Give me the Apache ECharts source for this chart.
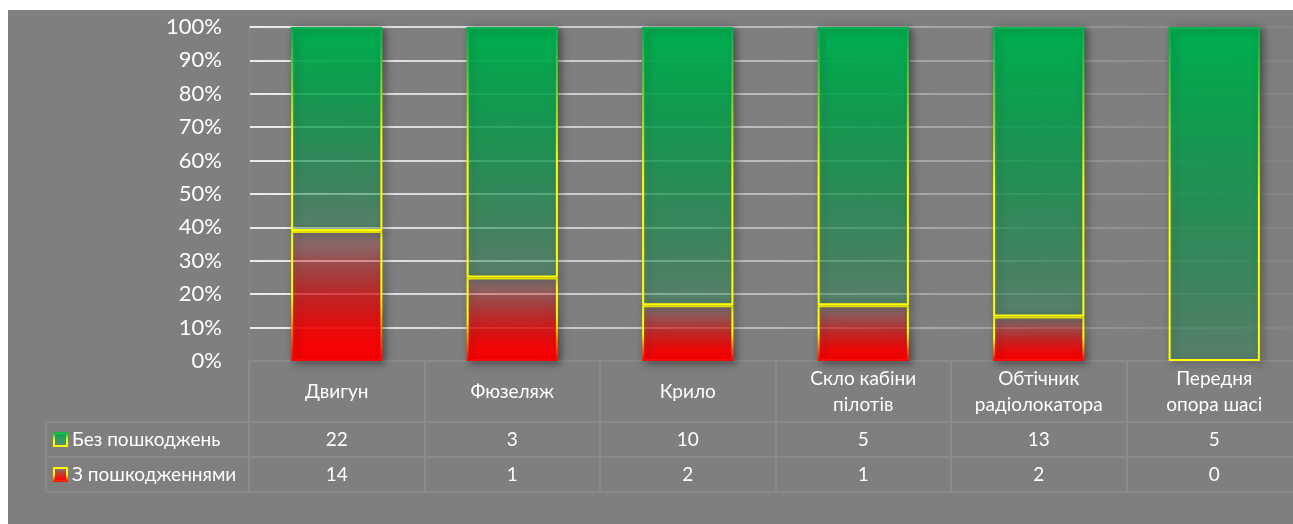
<!DOCTYPE html>
<html>
<head>
<meta charset="utf-8">
<script src="https://cdn.jsdelivr.net/npm/echarts@6/dist/echarts.min.js"></script>
<style>
  html, body { margin: 0; padding: 0; background: #ffffff; overflow: hidden; width: 1293px; height: 524px; }
  #bg { position: absolute; left: 8px; top: 10px; width: 1285px; height: 514px; background: #7f7f7f; }
  #chart { position: absolute; left: 0; top: 0; width: 1312px; height: 524px; }
</style>
</head>
<body>
<div id="bg"></div>
<div id="chart"></div>
<script>
// ---- data ----
var categories = ['Двигун', 'Фюзеляж', 'Крило', 'Скло кабіни\nпілотів', 'Обтічник\nрадіолокатора', 'Передня\nопора шасі'];
var seriesNames = ['Без пошкоджень', 'З пошкодженнями'];
var noDamage = [22, 3, 10, 5, 13, 5];
var damaged = [14, 1, 2, 1, 2, 0];
var yTicks = [0, 10, 20, 30, 40, 50, 60, 70, 80, 90, 100];

// percentage shares (100% stacked)
var noDamagePct = noDamage.map(function (v, i) { return v / (v + damaged[i]) * 100; });
var damagedPct = damaged.map(function (v, i) { return v / (v + noDamage[i]) * 100; });

var FONT = 'Lato';
var LINE = '#8a8a8a';
var TFS = 19;

function grad(stops) {
  return { type: 'linear', x: 0, y: 0, x2: 0, y2: 1, colorStops: stops };
}

var chart = echarts.init(document.getElementById('chart'), null, { renderer: 'canvas' });

var option = {
  animation: false,
  backgroundColor: 'transparent',
  textStyle: { fontFamily: FONT },
  grid: { left: 249, top: 27, width: 1053, height: 334, containLabel: false },
  legend: {
    orient: 'vertical',
    left: 53,
    top: 430,
    padding: 0,
    itemWidth: 13,
    itemHeight: 13,
    itemGap: 16,
    icon: 'rect',
    data: seriesNames,
    textStyle: { color: '#ffffff', fontSize: TFS, fontFamily: FONT }
  },
  yAxis: {
    type: 'value',
    min: yTicks[0],
    max: yTicks[yTicks.length - 1],
    interval: yTicks[1] - yTicks[0],
    axisLine: { show: true, lineStyle: { color: LINE, width: 1 } },
    axisTick: { show: false },
    axisLabel: { color: '#ffffff', fontSize: 22, fontFamily: FONT, margin: 27, formatter: '{value}%' },
    splitLine: {
      show: true,
      lineStyle: {
        width: 2,
        color: { type: 'linear', x: 0, y: 0, x2: 1, y2: 0, colorStops: [
          { offset: 0, color: 'rgba(255,255,255,0.85)' },
          { offset: 0.45, color: 'rgba(255,255,255,0.5)' },
          { offset: 0.85, color: 'rgba(255,255,255,0.12)' },
          { offset: 1, color: 'rgba(255,255,255,0.04)' }
        ] }
      }
    }
  },
  xAxis: [
    {
      type: 'category', position: 'bottom', data: categories,
      axisLine: { show: true, lineStyle: { color: LINE, width: 2 } },
      axisTick: { show: true, interval: 0, length: 131, lineStyle: { color: LINE, width: 2 } },
      axisLabel: { interval: 0, color: '#ffffff', fontSize: TFS, fontFamily: FONT, lineHeight: 26, margin: 31, verticalAlign: 'middle' }
    },
    {
      type: 'category', position: 'bottom', offset: 61, data: categories,
      axisLine: { show: true, lineStyle: { color: LINE, width: 2 } },
      axisTick: { show: false },
      axisLabel: { interval: 0, color: '#ffffff', fontSize: TFS, fontFamily: FONT, margin: 18, verticalAlign: 'middle',
        formatter: function (v, i) { return String(noDamage[i]); } }
    },
    {
      type: 'category', position: 'bottom', offset: 96, data: categories,
      axisLine: { show: true, lineStyle: { color: LINE, width: 2 } },
      axisTick: { show: false },
      axisLabel: { interval: 0, color: '#ffffff', fontSize: TFS, fontFamily: FONT, margin: 18, verticalAlign: 'middle',
        formatter: function (v, i) { return String(damaged[i]); } }
    },
    {
      type: 'category', position: 'bottom', offset: 131, data: categories,
      axisLine: { show: true, lineStyle: { color: LINE, width: 2 } },
      axisTick: { show: false },
      axisLabel: { show: false }
    }
  ],
  graphic: [
    { type: 'line', silent: true, shape: { x1: 46, y1: 422, x2: 249, y2: 422 }, style: { stroke: LINE, lineWidth: 2 } },
    { type: 'line', silent: true, shape: { x1: 46, y1: 457, x2: 249, y2: 457 }, style: { stroke: LINE, lineWidth: 2 } },
    { type: 'line', silent: true, shape: { x1: 46, y1: 492, x2: 249, y2: 492 }, style: { stroke: LINE, lineWidth: 2 } },
    { type: 'line', silent: true, shape: { x1: 46, y1: 422, x2: 46, y2: 492 }, style: { stroke: LINE, lineWidth: 2 } }
  ],
  series: [
    {
      name: seriesNames[1],
      type: 'bar',
      stack: 'total',
      xAxisIndex: 0,
      barWidth: '52%',
      data: damagedPct.map(function (v) {
        return v === 0 ? { value: v, itemStyle: { borderWidth: 0, shadowBlur: 0, shadowColor: 'transparent' } } : v;
      }),
      itemStyle: {
        color: grad([
          { offset: 0, color: 'rgba(255,0,0,0.02)' },
          { offset: 0.5, color: 'rgba(255,0,0,0.6)' },
          { offset: 0.8, color: 'rgba(255,0,0,0.9)' },
          { offset: 1, color: 'rgba(255,0,0,1)' }
        ]),
        borderColor: grad([
          { offset: 0, color: '#ffff00' },
          { offset: 0.5, color: '#ffff00' },
          { offset: 1, color: 'rgba(255,0,0,0.9)' }
        ]),
        borderWidth: 2,
        shadowColor: 'rgba(0,0,0,0.45)',
        shadowBlur: 8,
        shadowOffsetX: 3,
        shadowOffsetY: 2
      }
    },
    {
      name: seriesNames[0],
      type: 'bar',
      stack: 'total',
      xAxisIndex: 0,
      barWidth: '52%',
      data: noDamagePct,
      itemStyle: {
        color: grad([
          { offset: 0, color: 'rgba(0,176,80,1)' },
          { offset: 0.5, color: 'rgba(0,176,80,0.62)' },
          { offset: 1, color: 'rgba(0,176,80,0.22)' }
        ]),
        borderColor: grad([
          { offset: 0, color: 'rgba(0,176,80,1)' },
          { offset: 0.55, color: '#ffff00' },
          { offset: 1, color: '#ffff00' }
        ]),
        borderWidth: 2,
        shadowColor: 'rgba(0,0,0,0.45)',
        shadowBlur: 8,
        shadowOffsetX: 3,
        shadowOffsetY: 2
      }
    }
  ]
};

chart.setOption(option);
</script>
</body>
</html>
